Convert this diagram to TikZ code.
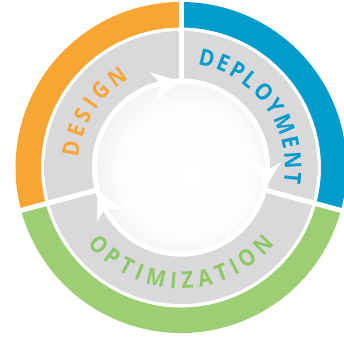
\documentclass[tikz,border=0pt]{standalone}
\usepackage{fontspec}
\usetikzlibrary{decorations.text}
% each label gets its own font instance, so its word space stays its own
\newfontfamily\designfont[WordSpace=0.76,FakeStretch=0.9]{Open Sans}
\newfontfamily\deployfont[WordSpace=0.45,FakeStretch=0.901]{Open Sans}
\newfontfamily\optimfont[WordSpace=1.04,FakeStretch=0.899]{Open Sans}
\definecolor{designorange}{RGB}{247,166,51}
\definecolor{deployblue}{RGB}{0,156,203}
\definecolor{optimgreen}{RGB}{157,206,116}
\definecolor{optimtext}{RGB}{140,200,100}
\pgfdeclareradialshading{ringshade}{\pgfpointorigin}{%
  rgb(0bp)=(0.85,0.85,0.86); rgb(32.5bp)=(0.85,0.85,0.86); rgb(35.5bp)=(0.92,0.92,0.93);
  rgb(41bp)=(0.96,0.96,0.96); rgb(46bp)=(0.93,0.93,0.94); rgb(50bp)=(0.88,0.88,0.89)}
\pgfdeclareradialshading{discshade}{\pgfpoint{3bp}{-2bp}}{%
  rgb(0bp)=(1,1,1); rgb(20bp)=(0.99,0.99,0.99); rgb(36bp)=(0.9,0.9,0.9);
  rgb(50bp)=(0.73,0.73,0.73)}
\begin{document}
\begin{tikzpicture}[x=1pt,y=1pt,
    band/.style={line width=25.5pt},
    gap/.style={draw=white,line width=5pt},
    stage/.style={decorate,decoration={text along path,text align=center,text color=#1}}]
\useasboundingbox (-181,-170.5) rectangle (163,167.5);
% outer coloured band
\draw[band,designorange] (195:152.75) arc[start angle=195,end angle=90,radius=152.75];
\draw[band,deployblue] (90:152.75) arc[start angle=90,end angle=-15,radius=152.75];
\draw[band,optimgreen] (-15:152.75) arc[start angle=-15,end angle=-165,radius=152.75];
% grey ring and gaps
\shade[shading=ringshade,even odd rule] (0,0) circle[radius=136.5] (0,0) circle[radius=89];
\foreach \a in {90,195,-15}
  \draw[gap] (\a:86) -- (\a:170);
% inner disc with the cycle arrows
\fill[white] (0,0) circle[radius=89];
\shade[shading=discshade] (0,0) circle[radius=84];
\foreach \a in {90,-15,195}
  \fill[white] (\a+0.5:86.5) -- (\a+18:100) -- (\a+13.5:86.5) -- (\a+21:72) -- cycle;
% labels
\path[stage=designorange,decoration={text={|\designfont\bfseries\fontsize{23}{23}\selectfont|D E S I G N}}]
  (207.5:103) arc[start angle=207.5,end angle=87.5,radius=103];
\path[stage=deployblue,decoration={text={|\deployfont\bfseries\fontsize{23}{23}\selectfont|D E P L O Y M E N T}}]
  (96:104) arc[start angle=96,end angle=-24,radius=104];
\path[stage=optimtext,decoration={text={|\optimfont\bfseries\fontsize{23}{23}\selectfont|O P T I M I Z A T I O N}}]
  (200:121) arc[start angle=200,end angle=340,radius=121];
\end{tikzpicture}
\end{document}
